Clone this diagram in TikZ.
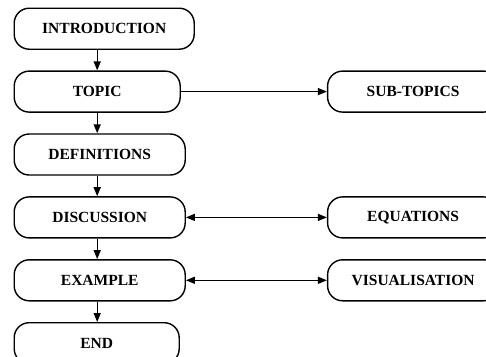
\documentclass[tikz,border=0pt]{standalone}
\usepackage{fontspec}
\setmainfont{Liberation Serif}
\usetikzlibrary{arrows.meta,positioning}

\begin{document}
\begin{tikzpicture}[
  >={Triangle[length=9pt,width=7pt]}, line width=1.4pt,
  node distance=20.5pt,
  stage/.style={draw, rounded corners=15pt, minimum height=41pt, inner sep=0pt,
    font=\fontsize{15.5}{18}\selectfont\bfseries}
]
  \useasboundingbox (0,0) rectangle (486pt,-356pt);
  \clip (0,0) rectangle (486pt,-356pt);

  % main column
  \node[stage, minimum width=180pt, anchor=north west] (intro) at (13.5pt,-7.5pt) {INTRODUCTION};
  \node[stage, minimum width=166pt, below=of intro.south west, anchor=north west] (topic) {TOPIC};
  \node[stage, minimum width=171pt, below=of topic.south west, anchor=north west] (defs) {DEFINITIONS};
  \node[stage, minimum width=171pt, below=of defs.south west, anchor=north west] (disc) {DISCUSSION};
  \node[stage, minimum width=171pt, below=of disc.south west, anchor=north west] (expl) {EXAMPLE};
  \node[stage, minimum width=165pt, below=of expl.south west, anchor=north west] (end) {END};

  % side column
  \node[stage, minimum width=171pt, right=146pt of topic] (subs) {SUB-TOPICS};
  \node[stage, minimum width=171pt, anchor=west] (eqns) at (disc -| subs.west) {EQUATIONS};
  \node[stage, minimum width=171pt, anchor=west] (vis) at (expl -| subs.west) {VISUALISATION};

  \draw[->] (intro.south -| topic.south) -- (topic.north);
  \draw[->] (topic.south) -- (defs.north -| topic.south);
  \draw[->] (defs.south -| topic.south) -- (disc.north -| topic.south);
  \draw[->] (disc.south -| topic.south) -- (expl.north -| topic.south);
  \draw[->] (expl.south -| topic.south) -- (end.north -| topic.south);

  \draw[->] (topic) -- (subs);
  \draw[<->] (disc) -- (eqns);
  \draw[<->] (expl) -- (vis);
\end{tikzpicture}
\end{document}
